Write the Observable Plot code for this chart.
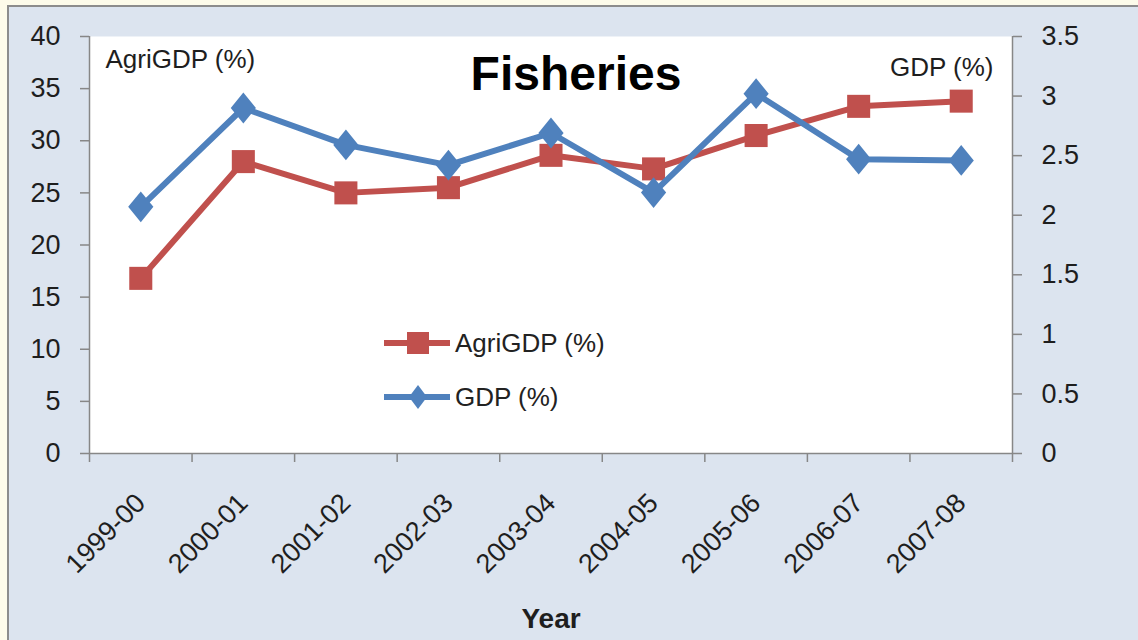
<!DOCTYPE html>
<html>
<head>
<meta charset="utf-8">
<script src="https://cdn.jsdelivr.net/npm/d3@7"></script>
<script src="https://cdn.jsdelivr.net/npm/@observablehq/plot@0.6"></script>
<style>
  html, body { margin: 0; padding: 0; }
  body { width: 1138px; height: 640px; background: #fdfbea; position: relative; overflow: hidden;
         font-family: "Liberation Sans", Arial, sans-serif; }
  #panel { position: absolute; left: 7px; top: 5px; right: 0; bottom: 0; background: #dce4ef;
           border-left: 2px solid #8c8c8c; border-top: 2px solid #8c8c8c; }
  #chart { position: absolute; left: 0; top: 0; }
  #legend { position: absolute; left: 383px; top: 328px; font-size: 26px; color: #222; }
  .row { display: flex; align-items: center; height: 30px; margin-bottom: 24px; }
  .row svg { display: block; margin-right: 4px; }
</style>
</head>
<body>
<div id="panel"></div>
<div id="chart"></div>
<div id="legend"></div>
<script>
const years = ["1999-00", "2000-01", "2001-02", "2002-03", "2003-04", "2004-05", "2005-06", "2006-07", "2007-08"];
const agriGDP = [16.8, 28.0, 25.0, 25.5, 28.6, 27.3, 30.5, 33.3, 33.8];
const gdp = [2.07, 2.90, 2.59, 2.42, 2.69, 2.19, 3.02, 2.47, 2.46];
const leftTicks = [0, 5, 10, 15, 20, 25, 30, 35, 40];
const rightTicks = [0, 0.5, 1, 1.5, 2, 2.5, 3, 3.5];
const seriesNames = ["AgriGDP (%)", "GDP (%)"];
const red = "#c0504d", blue = "#4f81bd", gray = "#878787", ink = "#1e1e1e";

const leftMax = 40, rightMax = 3.5, k = leftMax / rightMax;
const agriData = years.map((y, i) => ({i: i + 0.5, year: y, v: agriGDP[i]}));
const gdpData = years.map((y, i) => ({i: i + 0.5, year: y, v: gdp[i] * k}));

const tallDiamond = {
  draw(ctx, size) {
    const r = Math.sqrt(size / Math.PI);
    const w = r * 0.9, h = r * 1.1;
    ctx.moveTo(0, -h); ctx.lineTo(w, 0); ctx.lineTo(0, h); ctx.lineTo(-w, 0); ctx.closePath();
  }
};

const chart = Plot.plot({
  width: 1138, height: 640,
  marginLeft: 89, marginRight: 126, marginTop: 36, marginBottom: 187,
  style: {background: "transparent", fontFamily: "'Liberation Sans', Arial, sans-serif", fontSize: "27px", color: ink, overflow: "visible"},
  x: {type: "linear", domain: [0, years.length], axis: null, label: null},
  y: {domain: [0, leftMax], axis: null, label: null},
  marks: [
    Plot.frame({fill: "white", stroke: null}),
    Plot.axisX({ticks: d3.range(years.length + 1), tickFormat: () => "", tickSize: 9, stroke: gray, strokeWidth: 1.5, label: null}),
    Plot.axisY({ticks: leftTicks, tickSize: 9, tickPadding: 20, fontSize: 27, stroke: gray, fill: ink, strokeWidth: 1.5, label: null}),
    Plot.axisY({anchor: "right", ticks: rightTicks.map(d => d * k), tickFormat: d => String(+(d / k).toFixed(1)),
      tickSize: 9, tickPadding: 20, fontSize: 27, stroke: gray, fill: ink, strokeWidth: 1.5, label: null}),
    Plot.ruleY([0], {stroke: gray, strokeWidth: 1.5}),
    Plot.ruleX([0, years.length], {stroke: gray, strokeWidth: 1.5}),
    Plot.text(years, {x: (d, i) => i + 0.5, y: () => 0, text: d => d, rotate: -45, textAnchor: "end",
      dy: 45, dx: 0, fontSize: 27, fill: ink}),
    Plot.line(agriData, {x: "i", y: "v", stroke: red, strokeWidth: 6}),
    Plot.dot(agriData, {x: "i", y: "v", symbol: "square", r: 13, fill: red, stroke: null}),
    Plot.line(gdpData, {x: "i", y: "v", stroke: blue, strokeWidth: 6}),
    Plot.dot(gdpData, {x: "i", y: "v", symbol: tallDiamond, r: 14, fill: blue, stroke: null}),
    Plot.text(["Fisheries"], {frameAnchor: "top", lineAnchor: "middle", dx: 25, dy: 38, fontSize: 48, fontWeight: "bold", fill: "#000"}),
    Plot.text([seriesNames[0]], {frameAnchor: "top-left", textAnchor: "start", lineAnchor: "middle", dx: 16, dy: 23, fontSize: 26, fill: ink}),
    Plot.text([seriesNames[1]], {frameAnchor: "top-right", textAnchor: "end", lineAnchor: "middle", dx: -19, dy: 31, fontSize: 26, fill: ink}),
    Plot.text(["Year"], {frameAnchor: "bottom", lineAnchor: "middle", dy: 166, fontSize: 28, fontWeight: "bold", fill: ink})
  ]
});
document.getElementById("chart").appendChild(chart);

// Legend
const legend = d3.select("#legend");
[{name: seriesNames[0], color: red, shape: "square"}, {name: seriesNames[1], color: blue, shape: "diamond"}].forEach(s => {
  const row = legend.append("div").attr("class", "row");
  const svg = row.append("svg").attr("width", 68).attr("height", 30);
  svg.append("line").attr("x1", 1).attr("x2", 67).attr("y1", 15).attr("y2", 15)
    .attr("stroke", s.color).attr("stroke-width", 6);
  if (s.shape === "square") {
    svg.append("rect").attr("x", 24).attr("y", 4).attr("width", 22).attr("height", 22).attr("fill", s.color);
  } else {
    svg.append("path").attr("d", "M35,3 L44,15 L35,27 L26,15 Z").attr("fill", s.color);
  }
  row.append("span").text(s.name);
});
</script>
</body>
</html>
